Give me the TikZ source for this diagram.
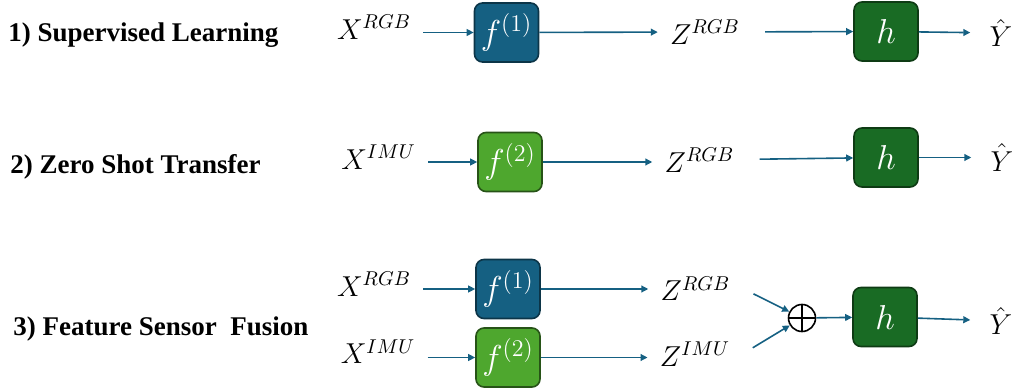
\documentclass[tikz,border=0pt]{standalone}
\usepackage{fontspec}
\setmainfont{Liberation Serif}
\usepackage{amsmath}
\usetikzlibrary{arrows.meta}

\definecolor{encblue}{HTML}{156082}
\definecolor{encgreen}{HTML}{4EA72E}
\definecolor{headgreen}{HTML}{196B24}

\tikzset{
  blk/.style={draw, rounded corners=4pt, minimum width=32pt, minimum height=29.5pt,
    inner sep=0pt, line width=0.8pt, text=white, font=\fontsize{17.28}{20}\selectfont},
  enc1/.style={blk, fill=encblue, draw=encblue!55!black},
  enc2/.style={blk, fill=encgreen, draw=encgreen!50!black},
  head/.style={blk, fill=headgreen, draw=headgreen!55!black},
  var/.style={inner sep=6pt, font=\fontsize{14.4}{18}\selectfont},
  title/.style={anchor=base west, inner sep=0pt, font=\fontsize{13.5}{16}\selectfont\bfseries},
  arr/.style={-{Triangle[length=3.5pt,width=3.4pt]}, draw=encblue, line width=0.8pt},
  plus/.style={circle, draw, line width=0.8pt, minimum size=13.5pt, inner sep=0pt,
    path picture={\draw[line width=0.8pt] (path picture bounding box.north) -- (path picture bounding box.south)
      (path picture bounding box.west) -- (path picture bounding box.east);}}
}

\begin{document}
\begin{tikzpicture}[x=0.5pt,y=-0.5pt]
    \useasboundingbox (0,0) rectangle (1015,389);

    %% titles
    \node[title] (t1) at (8,42) {1) Supervised Learning};
    \node[title] (t2) at (10,174) {2) Zero Shot Transfer};
    \node[title] (t3) at (13,335) {3) Feature Sensor\ \ Fusion};

    %% row 1
    \node[var] (x1) at (374,27) {$X^{RGB}$};
    \node[enc1] (f1) at (506.5,32.5) {$f^{(1)}$};
    \node[var] (z1) at (705,32) {$Z^{RGB}$};
    \node[head] (h1) at (886,31.5) {$h$};
    \node[var] (y1) at (1001,33) {$\hat{Y}$};

    %% row 2
    \node[var] (x2) at (378.5,157) {$X^{IMU}$};
    \node[enc2] (f2) at (510,162) {$f^{(2)}$};
    \node[var] (z2) at (699.5,160) {$Z^{RGB}$};
    \node[head] (h2) at (886,157.5) {$h$};
    \node[var] (y2) at (1002,157.5) {$\hat{Y}$};

    %% row 3
    \node[var] (x3) at (374,284) {$X^{RGB}$};
    \node[enc1] (f3) at (508,289) {$f^{(1)}$};
    \node[var] (z3) at (695.5,288.5) {$Z^{RGB}$};
    \node[var] (x4) at (378,351.5) {$X^{IMU}$};
    \node[enc2] (f4) at (508,357.5) {$f^{(2)}$};
    \node[var] (z4) at (695,354) {$Z^{IMU}$};
    \node[plus] (p3) at (802,318) {};
    \node[head] (h3) at (885,317) {$h$};
    \node[var] (y3) at (1001,321) {$\hat{Y}$};

    %% encoders
    \draw[arr] (x1.east |- f1) -- (f1);
    \draw[arr] (f1) -- (z1);
    \draw[arr] (x2.east |- f2) -- (f2);
    \draw[arr] (f2) -- (z2.west |- f2);
    \draw[arr] (x3.east |- f3) -- (f3);
    \draw[arr] (f3) -- (z3.west |- f3);
    \draw[arr] (x4.east |- f4) -- (f4);
    \draw[arr] (f4) -- (z4.west |- f4);
    %% fusion
    \draw[arr,shorten <=6pt] (z3.east) -- (p3);
    \draw[arr,shorten <=6pt] (z4.east) -- (p3);
    \draw[arr] (p3) -- (h3);
    %% heads
    \draw[arr,shorten <=6.5pt] (z1) -- (h1);
    \draw[arr,shorten <=6.5pt] (z2) -- (h2);
    \draw[arr,shorten >=3.5pt] (h1) -- (y1);
    \draw[arr,shorten >=3.5pt] (h2) -- (y2);
    \draw[arr,shorten >=3.5pt] (h3) -- (y3);
\end{tikzpicture}
\end{document}
